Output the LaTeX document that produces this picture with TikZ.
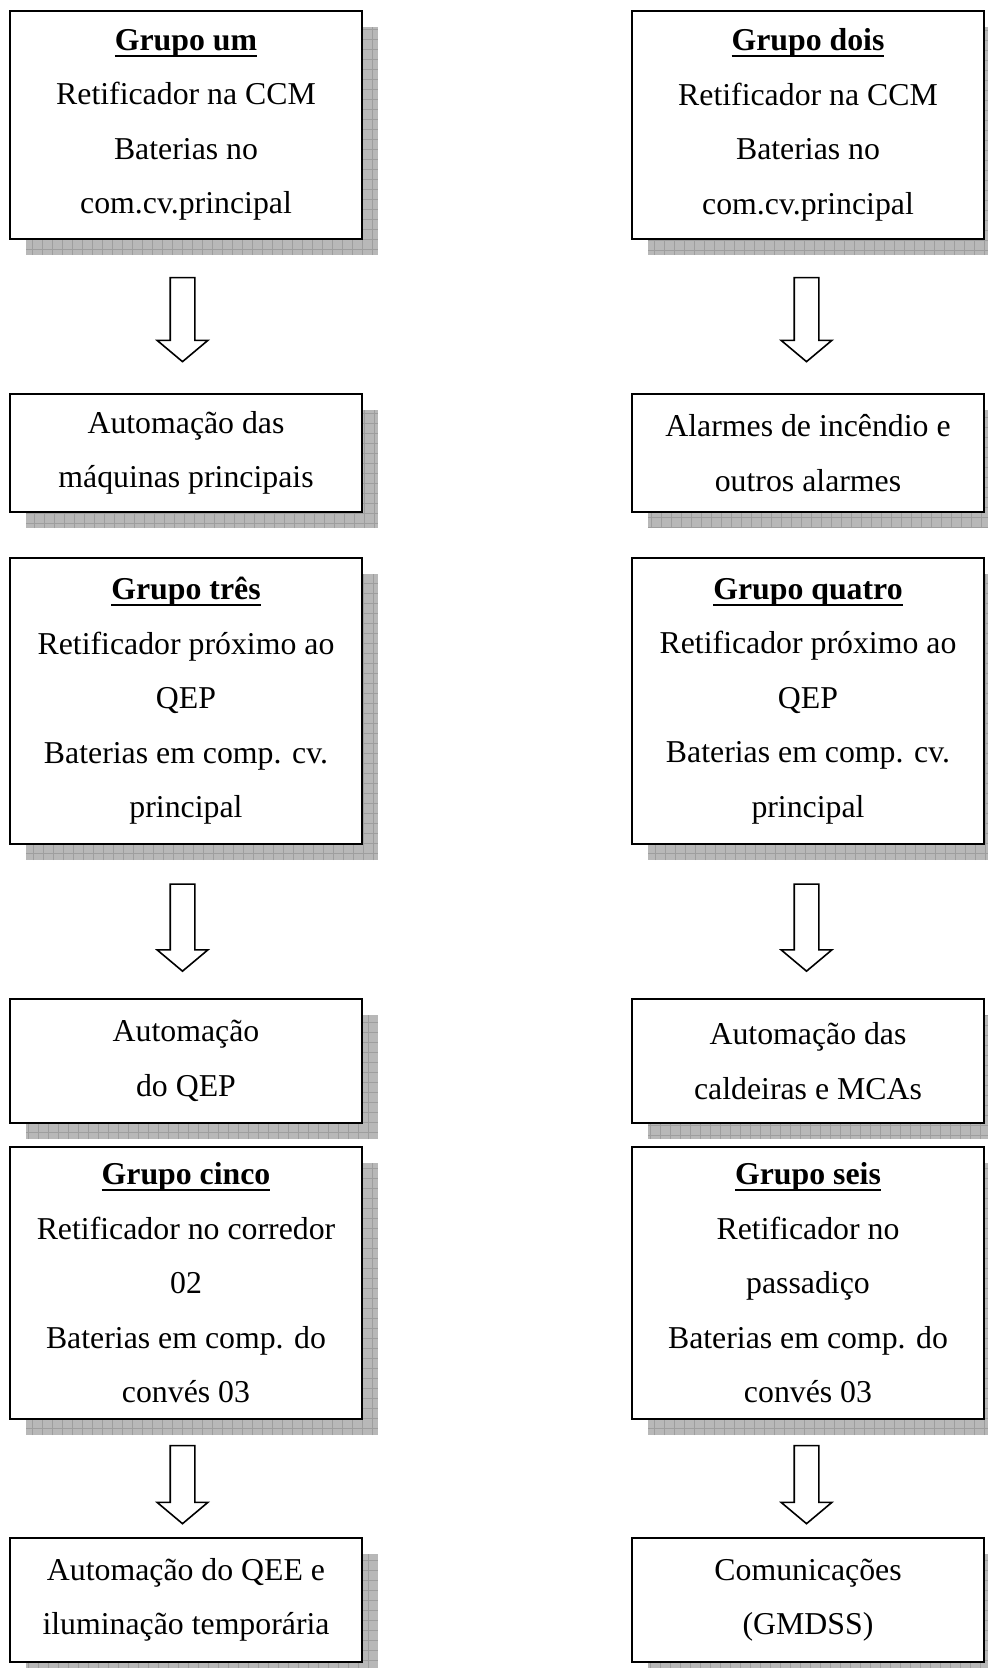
\documentclass[tikz,border=0pt]{standalone}
\usepackage{fontspec}
\setmainfont{Liberation Serif}
\usepackage{tikz}
\usetikzlibrary{calc,shapes.arrows,shadows}
\newsavebox{\grupobox}
\newcommand{\grupo}[1]{\sbox{\grupobox}{\textbf{#1}}\rlap{\rule[-3.2pt]{\wd\grupobox}{0.9pt}}\usebox{\grupobox}}
\tikzset{
 caixa/.style={draw,line width=1pt,fill=white,align=center,inner sep=0pt,
  minimum width=176pt,font=\fontsize{15.9}{27.25}\selectfont,
  general shadow={fill=black!28,shadow xshift=8pt,shadow yshift=-8pt,
   path picture={\draw[black!38,line width=0.5pt,step=5pt]
    (path picture bounding box.south west) grid (path picture bounding box.north east);}}},
 seta/.style={draw,line width=0.8pt,fill=white,shape=single arrow,rotate=-90,inner sep=5.75pt,
  minimum height=42pt,single arrow head extend=6.5pt,single arrow tip angle=100}
}
\begin{document}
\begin{tikzpicture}[x=0.5pt,y=-0.5pt]
 \def\xE{186} % coluna esquerda
 \def\xD{808} % coluna direita
 \useasboundingbox (0,0) rectangle (987,1668);
% linha 1
 \node[caixa,minimum height=114pt] (g1) at (\xE,125) {\grupo{Grupo um}\\Retificador na CCM\\Baterias no\\com.cv.principal};
 \node[caixa,minimum height=114pt] (g2) at (\xD,125) {\grupo{Grupo dois}\\Retificador na CCM\\Baterias no\\com.cv.principal};
 \node[caixa,minimum height=59pt] (c1) at (\xE,453) {Automação das\\máquinas principais};
 \node[caixa,minimum height=59pt] (c2) at (\xD,453) {Alarmes de incêndio e\\outros alarmes};
% linha 2
 \node[caixa,minimum height=143pt] (g3) at (\xE,701) {\grupo{Grupo três}\\Retificador próximo ao\\QEP\\Baterias em comp. cv.\\principal};
 \node[caixa,minimum height=143pt] (g4) at (\xD,701) {\grupo{Grupo quatro}\\Retificador próximo ao\\QEP\\Baterias em comp. cv.\\principal};
 \node[caixa,minimum height=62pt] (c3) at (\xE,1061) {Automação\\do QEP};
 \node[caixa,minimum height=62pt] (c4) at (\xD,1061) {Automação das\\caldeiras e MCAs};
% linha 3
 \node[caixa,minimum height=136pt] (g5) at (\xE,1283) {\grupo{Grupo cinco}\\Retificador no corredor\\02\\Baterias em comp. do\\convés 03};
 \node[caixa,minimum height=136pt] (g6) at (\xD,1283) {\grupo{Grupo seis}\\Retificador no\\passadiço\\Baterias em comp. do\\convés 03};
 \node[caixa,minimum height=62pt] (c5) at (\xE,1600) {Automação do QEE e\\iluminação temporária};
 \node[caixa,minimum height=62pt] (c6) at (\xD,1600) {Comunicações\\(GMDSS)};
% setas
 \node[seta] (s1) at ($(g1.south)!.5!(c1.north)+(-3.5,-2)$) {};
 \node[seta] (s2) at ($(g2.south)!.5!(c2.north)+(-1.5,-2)$) {};
 \node[seta,minimum height=43.5pt] (s3) at ($(g3.south)!.5!(c3.north)+(-3.5,1)$) {};
 \node[seta,minimum height=43.5pt] (s4) at ($(g4.south)!.5!(c4.north)+(-1.5,1)$) {};
 \node[seta,minimum height=39pt] (s5) at ($(g5.south)!.5!(c5.north)+(-3.5,1)$) {};
 \node[seta,minimum height=39pt] (s6) at ($(g6.south)!.5!(c6.north)+(-1.5,1)$) {};
\end{tikzpicture}
\end{document}
